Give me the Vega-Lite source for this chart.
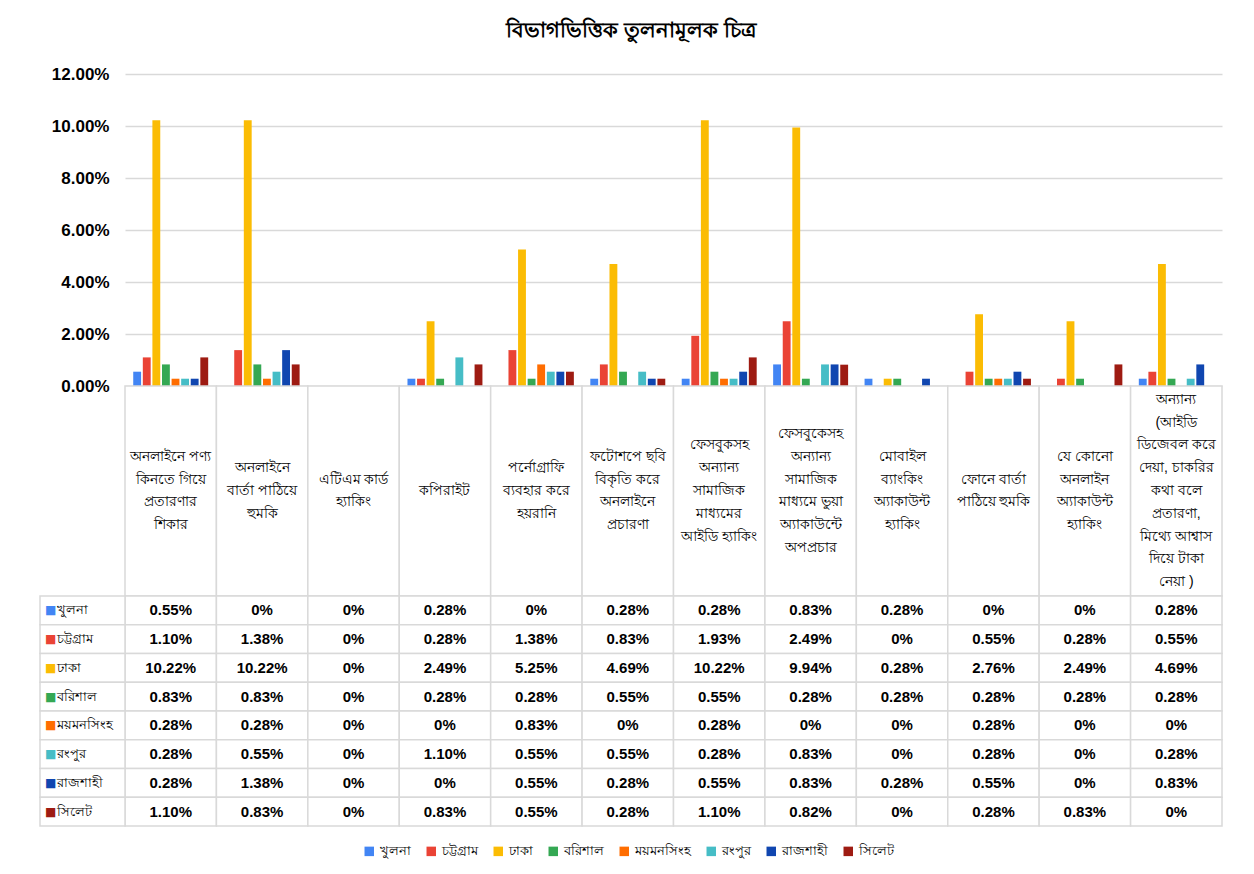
{
  "$schema": "https://vega.github.io/schema/vega-lite/v6.json",
  "background": "white",
  "padding": {"left": 39, "top": 20, "right": 10, "bottom": 10},
  "title": {"text": "বিভাগভিত্তিক তুলনামূলক চিত্র", "fontSize": 21, "fontWeight": "bold", "color": "#000000", "anchor": "middle", "offset": 24},
  "spacing": 0,
  "bounds": "flush",
  "datasets": {
    "cats": [
      {"cat": "অনলাইনে পণ্য কিনতে গিয়ে প্রতারণার শিকার", "lines": ["অনলাইনে পণ্য", "কিনতে গিয়ে", "প্রতারণার", "শিকার"]},
      {"cat": "অনলাইনে বার্তা পাঠিয়ে হুমকি", "lines": ["অনলাইনে", "বার্তা পাঠিয়ে", "হুমকি"]},
      {"cat": "এটিএম কার্ড হ্যাকিং", "lines": ["এটিএম কার্ড", "হ্যাকিং"]},
      {"cat": "কপিরাইট", "lines": ["কপিরাইট"]},
      {"cat": "পর্নোগ্রাফি ব্যবহার করে হয়রানি", "lines": ["পর্নোগ্রাফি", "ব্যবহার করে", "হয়রানি"]},
      {"cat": "ফটোশপে ছবি বিকৃতি করে অনলাইনে প্রচারণা", "lines": ["ফটোশপে ছবি", "বিকৃতি করে", "অনলাইনে", "প্রচারণা"]},
      {"cat": "ফেসবুকসহ অন্যান্য সামাজিক মাধ্যমের আইডি হ্যাকিং", "lines": ["ফেসবুকসহ", "অন্যান্য", "সামাজিক", "মাধ্যমের", "আইডি হ্যাকিং"]},
      {"cat": "ফেসবুকেসহ অন্যান্য সামাজিক মাধ্যমে ভুয়া অ্যাকাউন্টে অপপ্রচার", "lines": ["ফেসবুকেসহ", "অন্যান্য", "সামাজিক", "মাধ্যমে ভুয়া", "অ্যাকাউন্টে", "অপপ্রচার"]},
      {"cat": "মোবাইল ব্যাংকিং অ্যাকাউন্ট হ্যাকিং", "lines": ["মোবাইল", "ব্যাংকিং", "অ্যাকাউন্ট", "হ্যাকিং"]},
      {"cat": "ফোনে বার্তা পাঠিয়ে হুমকি", "lines": ["ফোনে বার্তা", "পাঠিয়ে হুমকি"]},
      {"cat": "যে কোনো অনলাইন অ্যাকাউন্ট হ্যাকিং", "lines": ["যে কোনো", "অনলাইন", "অ্যাকাউন্ট", "হ্যাকিং"]},
      {"cat": "অন্যান্য (আইডি ডিজেবল করে দেয়া, চাকরির কথা বলে প্রতারণা, মিথ্যে আশ্বাস দিয়ে টাকা নেয়া )", "lines": ["অন্যান্য", "(আইডি", "ডিজেবল করে", "দেয়া, চাকরির", "কথা বলে", "প্রতারণা,", "মিথ্যে আশ্বাস", "দিয়ে টাকা", "নেয়া )"]}
    ],
    "divs": [
      {"div": "খুলনা"}, {"div": "চট্টগ্রাম"}, {"div": "ঢাকা"}, {"div": "বরিশাল"},
      {"div": "ময়মনসিংহ"}, {"div": "রংপুর"}, {"div": "রাজশাহী"}, {"div": "সিলেট"}
    ],
    "vals": [
      {"cat": "অনলাইনে পণ্য কিনতে গিয়ে প্রতারণার শিকার", "div": "খুলনা", "v": 0.55},
      {"cat": "অনলাইনে পণ্য কিনতে গিয়ে প্রতারণার শিকার", "div": "চট্টগ্রাম", "v": 1.10},
      {"cat": "অনলাইনে পণ্য কিনতে গিয়ে প্রতারণার শিকার", "div": "ঢাকা", "v": 10.22},
      {"cat": "অনলাইনে পণ্য কিনতে গিয়ে প্রতারণার শিকার", "div": "বরিশাল", "v": 0.83},
      {"cat": "অনলাইনে পণ্য কিনতে গিয়ে প্রতারণার শিকার", "div": "ময়মনসিংহ", "v": 0.28},
      {"cat": "অনলাইনে পণ্য কিনতে গিয়ে প্রতারণার শিকার", "div": "রংপুর", "v": 0.28},
      {"cat": "অনলাইনে পণ্য কিনতে গিয়ে প্রতারণার শিকার", "div": "রাজশাহী", "v": 0.28},
      {"cat": "অনলাইনে পণ্য কিনতে গিয়ে প্রতারণার শিকার", "div": "সিলেট", "v": 1.10},
      {"cat": "অনলাইনে বার্তা পাঠিয়ে হুমকি", "div": "খুলনা", "v": 0},
      {"cat": "অনলাইনে বার্তা পাঠিয়ে হুমকি", "div": "চট্টগ্রাম", "v": 1.38},
      {"cat": "অনলাইনে বার্তা পাঠিয়ে হুমকি", "div": "ঢাকা", "v": 10.22},
      {"cat": "অনলাইনে বার্তা পাঠিয়ে হুমকি", "div": "বরিশাল", "v": 0.83},
      {"cat": "অনলাইনে বার্তা পাঠিয়ে হুমকি", "div": "ময়মনসিংহ", "v": 0.28},
      {"cat": "অনলাইনে বার্তা পাঠিয়ে হুমকি", "div": "রংপুর", "v": 0.55},
      {"cat": "অনলাইনে বার্তা পাঠিয়ে হুমকি", "div": "রাজশাহী", "v": 1.38},
      {"cat": "অনলাইনে বার্তা পাঠিয়ে হুমকি", "div": "সিলেট", "v": 0.83},
      {"cat": "এটিএম কার্ড হ্যাকিং", "div": "খুলনা", "v": 0},
      {"cat": "এটিএম কার্ড হ্যাকিং", "div": "চট্টগ্রাম", "v": 0},
      {"cat": "এটিএম কার্ড হ্যাকিং", "div": "ঢাকা", "v": 0},
      {"cat": "এটিএম কার্ড হ্যাকিং", "div": "বরিশাল", "v": 0},
      {"cat": "এটিএম কার্ড হ্যাকিং", "div": "ময়মনসিংহ", "v": 0},
      {"cat": "এটিএম কার্ড হ্যাকিং", "div": "রংপুর", "v": 0},
      {"cat": "এটিএম কার্ড হ্যাকিং", "div": "রাজশাহী", "v": 0},
      {"cat": "এটিএম কার্ড হ্যাকিং", "div": "সিলেট", "v": 0},
      {"cat": "কপিরাইট", "div": "খুলনা", "v": 0.28},
      {"cat": "কপিরাইট", "div": "চট্টগ্রাম", "v": 0.28},
      {"cat": "কপিরাইট", "div": "ঢাকা", "v": 2.49},
      {"cat": "কপিরাইট", "div": "বরিশাল", "v": 0.28},
      {"cat": "কপিরাইট", "div": "ময়মনসিংহ", "v": 0},
      {"cat": "কপিরাইট", "div": "রংপুর", "v": 1.10},
      {"cat": "কপিরাইট", "div": "রাজশাহী", "v": 0},
      {"cat": "কপিরাইট", "div": "সিলেট", "v": 0.83},
      {"cat": "পর্নোগ্রাফি ব্যবহার করে হয়রানি", "div": "খুলনা", "v": 0},
      {"cat": "পর্নোগ্রাফি ব্যবহার করে হয়রানি", "div": "চট্টগ্রাম", "v": 1.38},
      {"cat": "পর্নোগ্রাফি ব্যবহার করে হয়রানি", "div": "ঢাকা", "v": 5.25},
      {"cat": "পর্নোগ্রাফি ব্যবহার করে হয়রানি", "div": "বরিশাল", "v": 0.28},
      {"cat": "পর্নোগ্রাফি ব্যবহার করে হয়রানি", "div": "ময়মনসিংহ", "v": 0.83},
      {"cat": "পর্নোগ্রাফি ব্যবহার করে হয়রানি", "div": "রংপুর", "v": 0.55},
      {"cat": "পর্নোগ্রাফি ব্যবহার করে হয়রানি", "div": "রাজশাহী", "v": 0.55},
      {"cat": "পর্নোগ্রাফি ব্যবহার করে হয়রানি", "div": "সিলেট", "v": 0.55},
      {"cat": "ফটোশপে ছবি বিকৃতি করে অনলাইনে প্রচারণা", "div": "খুলনা", "v": 0.28},
      {"cat": "ফটোশপে ছবি বিকৃতি করে অনলাইনে প্রচারণা", "div": "চট্টগ্রাম", "v": 0.83},
      {"cat": "ফটোশপে ছবি বিকৃতি করে অনলাইনে প্রচারণা", "div": "ঢাকা", "v": 4.69},
      {"cat": "ফটোশপে ছবি বিকৃতি করে অনলাইনে প্রচারণা", "div": "বরিশাল", "v": 0.55},
      {"cat": "ফটোশপে ছবি বিকৃতি করে অনলাইনে প্রচারণা", "div": "ময়মনসিংহ", "v": 0},
      {"cat": "ফটোশপে ছবি বিকৃতি করে অনলাইনে প্রচারণা", "div": "রংপুর", "v": 0.55},
      {"cat": "ফটোশপে ছবি বিকৃতি করে অনলাইনে প্রচারণা", "div": "রাজশাহী", "v": 0.28},
      {"cat": "ফটোশপে ছবি বিকৃতি করে অনলাইনে প্রচারণা", "div": "সিলেট", "v": 0.28},
      {"cat": "ফেসবুকসহ অন্যান্য সামাজিক মাধ্যমের আইডি হ্যাকিং", "div": "খুলনা", "v": 0.28},
      {"cat": "ফেসবুকসহ অন্যান্য সামাজিক মাধ্যমের আইডি হ্যাকিং", "div": "চট্টগ্রাম", "v": 1.93},
      {"cat": "ফেসবুকসহ অন্যান্য সামাজিক মাধ্যমের আইডি হ্যাকিং", "div": "ঢাকা", "v": 10.22},
      {"cat": "ফেসবুকসহ অন্যান্য সামাজিক মাধ্যমের আইডি হ্যাকিং", "div": "বরিশাল", "v": 0.55},
      {"cat": "ফেসবুকসহ অন্যান্য সামাজিক মাধ্যমের আইডি হ্যাকিং", "div": "ময়মনসিংহ", "v": 0.28},
      {"cat": "ফেসবুকসহ অন্যান্য সামাজিক মাধ্যমের আইডি হ্যাকিং", "div": "রংপুর", "v": 0.28},
      {"cat": "ফেসবুকসহ অন্যান্য সামাজিক মাধ্যমের আইডি হ্যাকিং", "div": "রাজশাহী", "v": 0.55},
      {"cat": "ফেসবুকসহ অন্যান্য সামাজিক মাধ্যমের আইডি হ্যাকিং", "div": "সিলেট", "v": 1.10},
      {"cat": "ফেসবুকেসহ অন্যান্য সামাজিক মাধ্যমে ভুয়া অ্যাকাউন্টে অপপ্রচার", "div": "খুলনা", "v": 0.83},
      {"cat": "ফেসবুকেসহ অন্যান্য সামাজিক মাধ্যমে ভুয়া অ্যাকাউন্টে অপপ্রচার", "div": "চট্টগ্রাম", "v": 2.49},
      {"cat": "ফেসবুকেসহ অন্যান্য সামাজিক মাধ্যমে ভুয়া অ্যাকাউন্টে অপপ্রচার", "div": "ঢাকা", "v": 9.94},
      {"cat": "ফেসবুকেসহ অন্যান্য সামাজিক মাধ্যমে ভুয়া অ্যাকাউন্টে অপপ্রচার", "div": "বরিশাল", "v": 0.28},
      {"cat": "ফেসবুকেসহ অন্যান্য সামাজিক মাধ্যমে ভুয়া অ্যাকাউন্টে অপপ্রচার", "div": "ময়মনসিংহ", "v": 0},
      {"cat": "ফেসবুকেসহ অন্যান্য সামাজিক মাধ্যমে ভুয়া অ্যাকাউন্টে অপপ্রচার", "div": "রংপুর", "v": 0.83},
      {"cat": "ফেসবুকেসহ অন্যান্য সামাজিক মাধ্যমে ভুয়া অ্যাকাউন্টে অপপ্রচার", "div": "রাজশাহী", "v": 0.83},
      {"cat": "ফেসবুকেসহ অন্যান্য সামাজিক মাধ্যমে ভুয়া অ্যাকাউন্টে অপপ্রচার", "div": "সিলেট", "v": 0.82},
      {"cat": "মোবাইল ব্যাংকিং অ্যাকাউন্ট হ্যাকিং", "div": "খুলনা", "v": 0.28},
      {"cat": "মোবাইল ব্যাংকিং অ্যাকাউন্ট হ্যাকিং", "div": "চট্টগ্রাম", "v": 0},
      {"cat": "মোবাইল ব্যাংকিং অ্যাকাউন্ট হ্যাকিং", "div": "ঢাকা", "v": 0.28},
      {"cat": "মোবাইল ব্যাংকিং অ্যাকাউন্ট হ্যাকিং", "div": "বরিশাল", "v": 0.28},
      {"cat": "মোবাইল ব্যাংকিং অ্যাকাউন্ট হ্যাকিং", "div": "ময়মনসিংহ", "v": 0},
      {"cat": "মোবাইল ব্যাংকিং অ্যাকাউন্ট হ্যাকিং", "div": "রংপুর", "v": 0},
      {"cat": "মোবাইল ব্যাংকিং অ্যাকাউন্ট হ্যাকিং", "div": "রাজশাহী", "v": 0.28},
      {"cat": "মোবাইল ব্যাংকিং অ্যাকাউন্ট হ্যাকিং", "div": "সিলেট", "v": 0},
      {"cat": "ফোনে বার্তা পাঠিয়ে হুমকি", "div": "খুলনা", "v": 0},
      {"cat": "ফোনে বার্তা পাঠিয়ে হুমকি", "div": "চট্টগ্রাম", "v": 0.55},
      {"cat": "ফোনে বার্তা পাঠিয়ে হুমকি", "div": "ঢাকা", "v": 2.76},
      {"cat": "ফোনে বার্তা পাঠিয়ে হুমকি", "div": "বরিশাল", "v": 0.28},
      {"cat": "ফোনে বার্তা পাঠিয়ে হুমকি", "div": "ময়মনসিংহ", "v": 0.28},
      {"cat": "ফোনে বার্তা পাঠিয়ে হুমকি", "div": "রংপুর", "v": 0.28},
      {"cat": "ফোনে বার্তা পাঠিয়ে হুমকি", "div": "রাজশাহী", "v": 0.55},
      {"cat": "ফোনে বার্তা পাঠিয়ে হুমকি", "div": "সিলেট", "v": 0.28},
      {"cat": "যে কোনো অনলাইন অ্যাকাউন্ট হ্যাকিং", "div": "খুলনা", "v": 0},
      {"cat": "যে কোনো অনলাইন অ্যাকাউন্ট হ্যাকিং", "div": "চট্টগ্রাম", "v": 0.28},
      {"cat": "যে কোনো অনলাইন অ্যাকাউন্ট হ্যাকিং", "div": "ঢাকা", "v": 2.49},
      {"cat": "যে কোনো অনলাইন অ্যাকাউন্ট হ্যাকিং", "div": "বরিশাল", "v": 0.28},
      {"cat": "যে কোনো অনলাইন অ্যাকাউন্ট হ্যাকিং", "div": "ময়মনসিংহ", "v": 0},
      {"cat": "যে কোনো অনলাইন অ্যাকাউন্ট হ্যাকিং", "div": "রংপুর", "v": 0},
      {"cat": "যে কোনো অনলাইন অ্যাকাউন্ট হ্যাকিং", "div": "রাজশাহী", "v": 0},
      {"cat": "যে কোনো অনলাইন অ্যাকাউন্ট হ্যাকিং", "div": "সিলেট", "v": 0.83},
      {"cat": "অন্যান্য (আইডি ডিজেবল করে দেয়া, চাকরির কথা বলে প্রতারণা, মিথ্যে আশ্বাস দিয়ে টাকা নেয়া )", "div": "খুলনা", "v": 0.28},
      {"cat": "অন্যান্য (আইডি ডিজেবল করে দেয়া, চাকরির কথা বলে প্রতারণা, মিথ্যে আশ্বাস দিয়ে টাকা নেয়া )", "div": "চট্টগ্রাম", "v": 0.55},
      {"cat": "অন্যান্য (আইডি ডিজেবল করে দেয়া, চাকরির কথা বলে প্রতারণা, মিথ্যে আশ্বাস দিয়ে টাকা নেয়া )", "div": "ঢাকা", "v": 4.69},
      {"cat": "অন্যান্য (আইডি ডিজেবল করে দেয়া, চাকরির কথা বলে প্রতারণা, মিথ্যে আশ্বাস দিয়ে টাকা নেয়া )", "div": "বরিশাল", "v": 0.28},
      {"cat": "অন্যান্য (আইডি ডিজেবল করে দেয়া, চাকরির কথা বলে প্রতারণা, মিথ্যে আশ্বাস দিয়ে টাকা নেয়া )", "div": "ময়মনসিংহ", "v": 0},
      {"cat": "অন্যান্য (আইডি ডিজেবল করে দেয়া, চাকরির কথা বলে প্রতারণা, মিথ্যে আশ্বাস দিয়ে টাকা নেয়া )", "div": "রংপুর", "v": 0.28},
      {"cat": "অন্যান্য (আইডি ডিজেবল করে দেয়া, চাকরির কথা বলে প্রতারণা, মিথ্যে আশ্বাস দিয়ে টাকা নেয়া )", "div": "রাজশাহী", "v": 0.83},
      {"cat": "অন্যান্য (আইডি ডিজেবল করে দেয়া, চাকরির কথা বলে প্রতারণা, মিথ্যে আশ্বাস দিয়ে টাকা নেয়া )", "div": "সিলেট", "v": 0}
    ]
  },
  "vconcat": [
    {
      "width": 1097,
      "height": 312,
      "data": {"name": "vals"},
      "mark": {"type": "bar"},
      "encoding": {
        "x": {"field": "cat", "type": "nominal", "sort": null, "scale": {"paddingInner": 0.18, "paddingOuter": 0.09}, "axis": null},
        "xOffset": {"field": "div", "type": "nominal", "sort": null, "scale": {"paddingInner": 0.18}},
        "y": {
          "field": "v", "type": "quantitative",
          "scale": {"domain": [0, 12]},
          "axis": {"title": null, "values": [0, 2, 4, 6, 8, 10, 12], "labelExpr": "format(datum.value, '.2f') + '%'", "domain": false, "ticks": false, "grid": true, "gridColor": "#d9d9d9", "gridWidth": 1.5, "labelFontSize": 17, "labelFontWeight": "bold", "labelColor": "#000000", "labelFont": "Liberation Sans", "labelPadding": 16}
        },
        "color": {
          "field": "div", "type": "nominal",
          "scale": {"domain": ["খুলনা", "চট্টগ্রাম", "ঢাকা", "বরিশাল", "ময়মনসিংহ", "রংপুর", "রাজশাহী", "সিলেট"], "range": ["#4285F4", "#EA4335", "#FBBC04", "#34A853", "#FF6D01", "#46BDC6", "#1046B0", "#9E1B12"]},
          "legend": {"title": null, "orient": "none", "legendX": 238, "legendY": 771, "direction": "horizontal", "symbolType": "square", "symbolSize": 90, "symbolStrokeWidth": 0, "labelFontSize": 12.5, "labelColor": "#000000", "columnPadding": 14}
        }
      }
    },
    {
      "width": 1097,
      "height": 210,
      "data": {"name": "cats"},
      "encoding": {
        "x": {"field": "cat", "type": "nominal", "sort": null, "scale": {"paddingInner": 0, "paddingOuter": 0}, "axis": null}
      },
      "layer": [
        {"mark": {"type": "rect", "fill": "white", "stroke": "#d9d9d9", "strokeWidth": 1.5}},
        {
          "transform": [
            {"flatten": ["lines"], "as": ["line"]},
            {"window": [{"op": "row_number", "as": "i"}], "groupby": ["cat"]},
            {"joinaggregate": [{"op": "count", "as": "n"}], "groupby": ["cat"]},
            {"calculate": "(datum.n + 1) / 2 - datum.i", "as": "pos"}
          ],
          "mark": {"type": "text", "fontSize": 14, "baseline": "middle", "color": "#000000"},
          "encoding": {
            "text": {"field": "line"},
            "y": {"field": "pos", "type": "quantitative", "scale": {"domain": [-4.615, 4.615], "nice": false, "zero": false}, "axis": null}
          }
        }
      ]
    },
    {
      "width": 1097,
      "height": 230,
      "layer": [
        {
          "data": {"name": "vals"},
          "mark": {"type": "rect", "fill": "white", "stroke": "#d9d9d9", "strokeWidth": 1.5},
          "encoding": {
            "x": {"field": "cat", "type": "nominal", "sort": null, "scale": {"paddingInner": 0, "paddingOuter": 0}, "axis": null},
            "y": {"field": "div", "type": "nominal", "sort": null, "scale": {"paddingInner": 0, "paddingOuter": 0}, "axis": null}
          }
        },
        {
          "data": {"name": "vals"},
          "transform": [{"calculate": "datum.v == 0 ? '0%' : format(datum.v, '.2f') + '%'", "as": "label"}],
          "mark": {"type": "text", "fontSize": 15, "fontWeight": "bold", "font": "Liberation Sans", "color": "#000000"},
          "encoding": {
            "x": {"field": "cat", "type": "nominal", "sort": null, "scale": {"paddingInner": 0, "paddingOuter": 0}, "axis": null},
            "y": {"field": "div", "type": "nominal", "sort": null, "scale": {"paddingInner": 0, "paddingOuter": 0}, "axis": null},
            "text": {"field": "label"}
          }
        },
        {
          "data": {"name": "divs"},
          "mark": {"type": "rect", "fill": "white", "stroke": "#d9d9d9", "strokeWidth": 1.5},
          "encoding": {
            "x": {"datum": "বিভাগ", "type": "nominal", "scale": {"domain": ["বিভাগ"], "range": [-85, 0], "paddingInner": 0, "paddingOuter": 0}, "axis": null},
            "y": {"field": "div", "type": "nominal", "sort": null, "axis": null}
          }
        },
        {
          "data": {"name": "divs"},
          "mark": {"type": "text", "align": "left", "baseline": "middle", "dx": -37.5, "fontSize": 12, "font": "DejaVu Sans"},
          "encoding": {
            "x": {"datum": "বিভাগ", "type": "nominal", "scale": {"domain": ["বিভাগ"], "range": [-85, 0], "paddingInner": 0, "paddingOuter": 0}, "axis": null},
            "y": {"field": "div", "type": "nominal", "sort": null, "axis": null},
            "text": {"value": "■"},
            "color": {"field": "div", "type": "nominal", "legend": null}
          }
        },
        {
          "data": {"name": "divs"},
          "mark": {"type": "text", "align": "left", "baseline": "middle", "dx": -26, "fontSize": 13, "color": "#000000"},
          "encoding": {
            "x": {"datum": "বিভাগ", "type": "nominal", "scale": {"domain": ["বিভাগ"], "range": [-85, 0], "paddingInner": 0, "paddingOuter": 0}, "axis": null},
            "y": {"field": "div", "type": "nominal", "sort": null, "axis": null},
            "text": {"field": "div"}
          }
        }
      ],
      "resolve": {"scale": {"x": "independent"}}
    }
  ],
  "config": {"view": {"stroke": null}}
}
